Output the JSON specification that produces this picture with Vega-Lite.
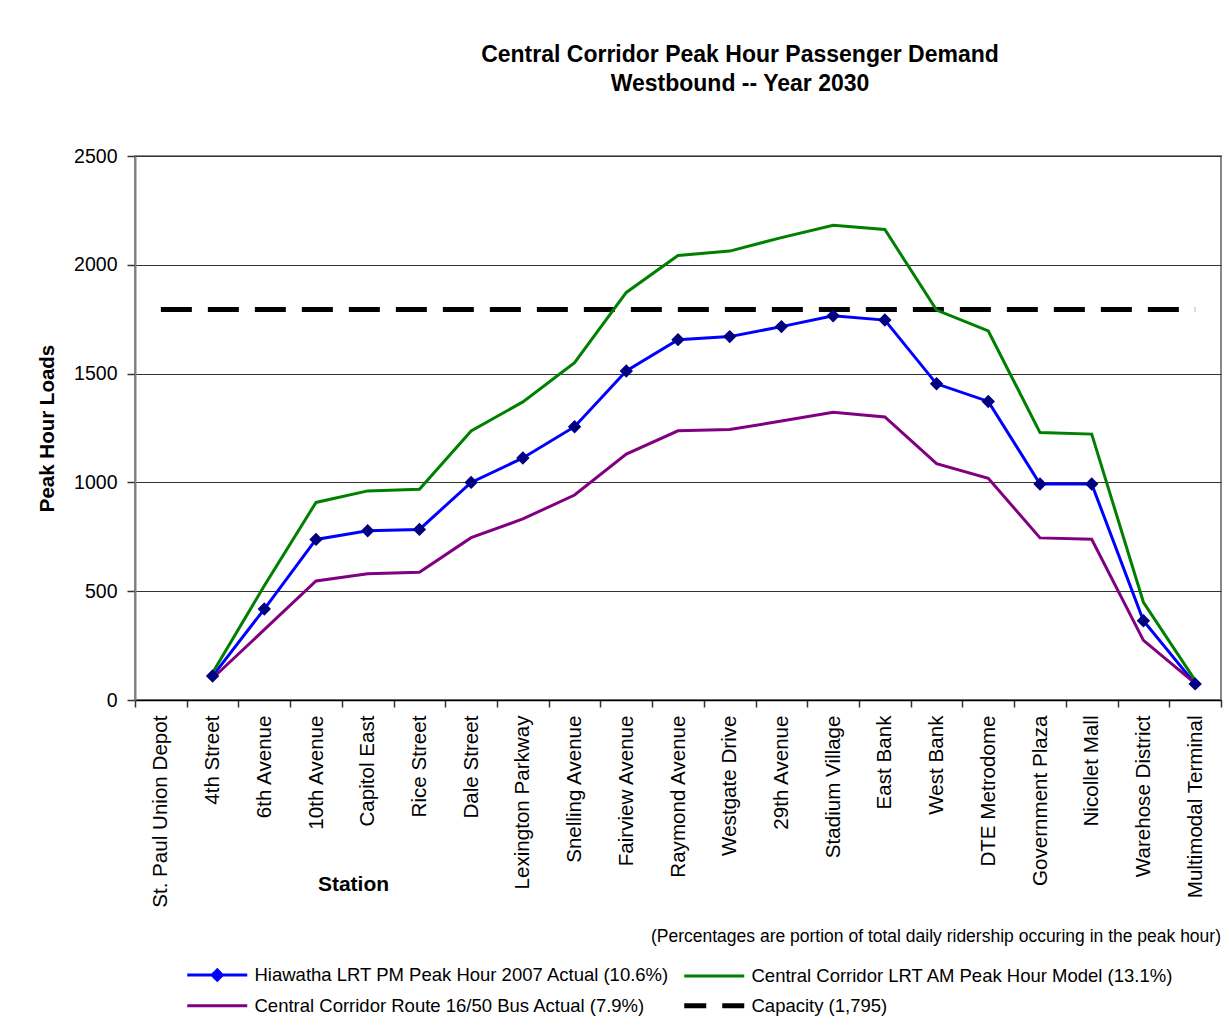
{
  "$schema": "https://vega.github.io/schema/vega-lite/v6.json",
  "width": 1086,
  "height": 544,
  "autosize": {"type": "none"},
  "padding": {"left": 135, "top": 156, "right": 8, "bottom": 332},
  "background": "#ffffff",
  "title": {
    "text": ["Central Corridor Peak Hour Passenger Demand", "Westbound -- Year 2030"],
    "font": "Liberation Sans",
    "fontSize": 23,
    "fontWeight": "bold",
    "color": "#000000",
    "anchor": "middle",
    "dx": 62,
    "offset": 50,
    "lineHeight": 29
  },
  "config": {
    "view": {"stroke": "#888888", "strokeWidth": 2},
    "font": "Liberation Sans",
    "axis": {"labelFont": "Liberation Sans", "titleFont": "Liberation Sans", "labelColor": "#000000", "titleColor": "#000000"},
    "legend": {
      "orient": "none",
      "legendX": 73,
      "legendY": 772,
      "columns": 2,
      "columnPadding": -3,
      "rowPadding": 9,
      "gridAlign": "all",
      "padding": 0,
      "labelFont": "Liberation Sans",
      "labelFontSize": 18.5,
      "labelColor": "#000000",
      "labelLimit": 700,
      "symbolType": "stroke",
      "symbolStrokeWidth": 3,
      "titleFont": "Liberation Sans",
      "titleFontSize": 17.5,
      "titleFontWeight": "normal",
      "titleColor": "#000000",
      "titleAnchor": "end",
      "titleLimit": 1200,
      "titlePadding": 20
    }
  },
  "data": {
    "values": [
      {"station": "4th Street", "series": "Hiawatha LRT PM Peak Hour 2007 Actual (10.6%)", "value": 110},
      {"station": "6th Avenue", "series": "Hiawatha LRT PM Peak Hour 2007 Actual (10.6%)", "value": 418},
      {"station": "10th Avenue", "series": "Hiawatha LRT PM Peak Hour 2007 Actual (10.6%)", "value": 738},
      {"station": "Capitol East", "series": "Hiawatha LRT PM Peak Hour 2007 Actual (10.6%)", "value": 778},
      {"station": "Rice Street", "series": "Hiawatha LRT PM Peak Hour 2007 Actual (10.6%)", "value": 784},
      {"station": "Dale Street", "series": "Hiawatha LRT PM Peak Hour 2007 Actual (10.6%)", "value": 1000},
      {"station": "Lexington Parkway", "series": "Hiawatha LRT PM Peak Hour 2007 Actual (10.6%)", "value": 1112},
      {"station": "Snelling Avenue", "series": "Hiawatha LRT PM Peak Hour 2007 Actual (10.6%)", "value": 1256},
      {"station": "Fairview Avenue", "series": "Hiawatha LRT PM Peak Hour 2007 Actual (10.6%)", "value": 1512},
      {"station": "Raymond Avenue", "series": "Hiawatha LRT PM Peak Hour 2007 Actual (10.6%)", "value": 1656},
      {"station": "Westgate Drive", "series": "Hiawatha LRT PM Peak Hour 2007 Actual (10.6%)", "value": 1670},
      {"station": "29th Avenue", "series": "Hiawatha LRT PM Peak Hour 2007 Actual (10.6%)", "value": 1716},
      {"station": "Stadium Village", "series": "Hiawatha LRT PM Peak Hour 2007 Actual (10.6%)", "value": 1766},
      {"station": "East Bank", "series": "Hiawatha LRT PM Peak Hour 2007 Actual (10.6%)", "value": 1746},
      {"station": "West Bank", "series": "Hiawatha LRT PM Peak Hour 2007 Actual (10.6%)", "value": 1453},
      {"station": "DTE Metrodome", "series": "Hiawatha LRT PM Peak Hour 2007 Actual (10.6%)", "value": 1372},
      {"station": "Government Plaza", "series": "Hiawatha LRT PM Peak Hour 2007 Actual (10.6%)", "value": 993},
      {"station": "Nicollet Mall", "series": "Hiawatha LRT PM Peak Hour 2007 Actual (10.6%)", "value": 993},
      {"station": "Warehose District", "series": "Hiawatha LRT PM Peak Hour 2007 Actual (10.6%)", "value": 364},
      {"station": "Multimodal Terminal", "series": "Hiawatha LRT PM Peak Hour 2007 Actual (10.6%)", "value": 74},

      {"station": "4th Street", "series": "Central Corridor LRT AM Peak Hour Model (13.1%)", "value": 125},
      {"station": "6th Avenue", "series": "Central Corridor LRT AM Peak Hour Model (13.1%)", "value": 525},
      {"station": "10th Avenue", "series": "Central Corridor LRT AM Peak Hour Model (13.1%)", "value": 908},
      {"station": "Capitol East", "series": "Central Corridor LRT AM Peak Hour Model (13.1%)", "value": 961},
      {"station": "Rice Street", "series": "Central Corridor LRT AM Peak Hour Model (13.1%)", "value": 968},
      {"station": "Dale Street", "series": "Central Corridor LRT AM Peak Hour Model (13.1%)", "value": 1236},
      {"station": "Lexington Parkway", "series": "Central Corridor LRT AM Peak Hour Model (13.1%)", "value": 1370},
      {"station": "Snelling Avenue", "series": "Central Corridor LRT AM Peak Hour Model (13.1%)", "value": 1550},
      {"station": "Fairview Avenue", "series": "Central Corridor LRT AM Peak Hour Model (13.1%)", "value": 1873},
      {"station": "Raymond Avenue", "series": "Central Corridor LRT AM Peak Hour Model (13.1%)", "value": 2043},
      {"station": "Westgate Drive", "series": "Central Corridor LRT AM Peak Hour Model (13.1%)", "value": 2063},
      {"station": "29th Avenue", "series": "Central Corridor LRT AM Peak Hour Model (13.1%)", "value": 2125},
      {"station": "Stadium Village", "series": "Central Corridor LRT AM Peak Hour Model (13.1%)", "value": 2182},
      {"station": "East Bank", "series": "Central Corridor LRT AM Peak Hour Model (13.1%)", "value": 2162},
      {"station": "West Bank", "series": "Central Corridor LRT AM Peak Hour Model (13.1%)", "value": 1792},
      {"station": "DTE Metrodome", "series": "Central Corridor LRT AM Peak Hour Model (13.1%)", "value": 1696},
      {"station": "Government Plaza", "series": "Central Corridor LRT AM Peak Hour Model (13.1%)", "value": 1229},
      {"station": "Nicollet Mall", "series": "Central Corridor LRT AM Peak Hour Model (13.1%)", "value": 1222},
      {"station": "Warehose District", "series": "Central Corridor LRT AM Peak Hour Model (13.1%)", "value": 449},
      {"station": "Multimodal Terminal", "series": "Central Corridor LRT AM Peak Hour Model (13.1%)", "value": 90},

      {"station": "4th Street", "series": "Central Corridor Route 16/50 Bus Actual (7.9%)", "value": 100},
      {"station": "6th Avenue", "series": "Central Corridor Route 16/50 Bus Actual (7.9%)", "value": 323},
      {"station": "10th Avenue", "series": "Central Corridor Route 16/50 Bus Actual (7.9%)", "value": 547},
      {"station": "Capitol East", "series": "Central Corridor Route 16/50 Bus Actual (7.9%)", "value": 580},
      {"station": "Rice Street", "series": "Central Corridor Route 16/50 Bus Actual (7.9%)", "value": 587},
      {"station": "Dale Street", "series": "Central Corridor Route 16/50 Bus Actual (7.9%)", "value": 746},
      {"station": "Lexington Parkway", "series": "Central Corridor Route 16/50 Bus Actual (7.9%)", "value": 832},
      {"station": "Snelling Avenue", "series": "Central Corridor Route 16/50 Bus Actual (7.9%)", "value": 942},
      {"station": "Fairview Avenue", "series": "Central Corridor Route 16/50 Bus Actual (7.9%)", "value": 1130},
      {"station": "Raymond Avenue", "series": "Central Corridor Route 16/50 Bus Actual (7.9%)", "value": 1237},
      {"station": "Westgate Drive", "series": "Central Corridor Route 16/50 Bus Actual (7.9%)", "value": 1243},
      {"station": "29th Avenue", "series": "Central Corridor Route 16/50 Bus Actual (7.9%)", "value": 1282},
      {"station": "Stadium Village", "series": "Central Corridor Route 16/50 Bus Actual (7.9%)", "value": 1322},
      {"station": "East Bank", "series": "Central Corridor Route 16/50 Bus Actual (7.9%)", "value": 1301},
      {"station": "West Bank", "series": "Central Corridor Route 16/50 Bus Actual (7.9%)", "value": 1086},
      {"station": "DTE Metrodome", "series": "Central Corridor Route 16/50 Bus Actual (7.9%)", "value": 1019},
      {"station": "Government Plaza", "series": "Central Corridor Route 16/50 Bus Actual (7.9%)", "value": 745},
      {"station": "Nicollet Mall", "series": "Central Corridor Route 16/50 Bus Actual (7.9%)", "value": 739},
      {"station": "Warehose District", "series": "Central Corridor Route 16/50 Bus Actual (7.9%)", "value": 274},
      {"station": "Multimodal Terminal", "series": "Central Corridor Route 16/50 Bus Actual (7.9%)", "value": 76},

      {"station": "St. Paul Union Depot", "series": "Capacity (1,795)", "value": 1795},
      {"station": "4th Street", "series": "Capacity (1,795)", "value": 1795},
      {"station": "6th Avenue", "series": "Capacity (1,795)", "value": 1795},
      {"station": "10th Avenue", "series": "Capacity (1,795)", "value": 1795},
      {"station": "Capitol East", "series": "Capacity (1,795)", "value": 1795},
      {"station": "Rice Street", "series": "Capacity (1,795)", "value": 1795},
      {"station": "Dale Street", "series": "Capacity (1,795)", "value": 1795},
      {"station": "Lexington Parkway", "series": "Capacity (1,795)", "value": 1795},
      {"station": "Snelling Avenue", "series": "Capacity (1,795)", "value": 1795},
      {"station": "Fairview Avenue", "series": "Capacity (1,795)", "value": 1795},
      {"station": "Raymond Avenue", "series": "Capacity (1,795)", "value": 1795},
      {"station": "Westgate Drive", "series": "Capacity (1,795)", "value": 1795},
      {"station": "29th Avenue", "series": "Capacity (1,795)", "value": 1795},
      {"station": "Stadium Village", "series": "Capacity (1,795)", "value": 1795},
      {"station": "East Bank", "series": "Capacity (1,795)", "value": 1795},
      {"station": "West Bank", "series": "Capacity (1,795)", "value": 1795},
      {"station": "DTE Metrodome", "series": "Capacity (1,795)", "value": 1795},
      {"station": "Government Plaza", "series": "Capacity (1,795)", "value": 1795},
      {"station": "Nicollet Mall", "series": "Capacity (1,795)", "value": 1795},
      {"station": "Warehose District", "series": "Capacity (1,795)", "value": 1795},
      {"station": "Multimodal Terminal", "series": "Capacity (1,795)", "value": 1795}
    ]
  },
  "encoding": {
    "x": {
      "field": "station",
      "type": "nominal",
      "sort": ["St. Paul Union Depot", "4th Street", "6th Avenue", "10th Avenue", "Capitol East", "Rice Street", "Dale Street", "Lexington Parkway", "Snelling Avenue", "Fairview Avenue", "Raymond Avenue", "Westgate Drive", "29th Avenue", "Stadium Village", "East Bank", "West Bank", "DTE Metrodome", "Government Plaza", "Nicollet Mall", "Warehose District", "Multimodal Terminal"],
      "scale": {"type": "band", "paddingInner": 0, "paddingOuter": 0},
      "bandPosition": 0.5,
      "axis": {
        "title": "Station",
        "titleFontSize": 21,
        "titleFontWeight": "bold",
        "titleX": 218,
        "titleY": 184,
        "titleAlign": "center",
        "titleBaseline": "middle",
        "labelAngle": 270,
        "labelFontSize": 20.6,
        "labelLimit": 400,
        "labelPadding": 8,
        "tickBand": "extent",
        "tickSize": 7,
        "tickColor": "#333333",
        "tickWidth": 1.5,
        "domainColor": "#000000",
        "domainWidth": 1.5,
        "grid": false
      }
    },
    "y": {
      "field": "value",
      "type": "quantitative",
      "scale": {"domain": [0, 2500], "nice": false},
      "axis": {
        "title": "Peak Hour Loads",
        "titleFontSize": 20.5,
        "titleFontWeight": "bold",
        "titlePadding": 16,
        "values": [0, 500, 1000, 1500, 2000, 2500],
        "format": "d",
        "labelFontSize": 19.5,
        "labelPadding": 10,
        "tickSize": 8,
        "tickColor": "#333333",
        "tickWidth": 1.5,
        "domainColor": "#808080",
        "domainWidth": 2,
        "grid": true,
        "gridColor": "#333333",
        "gridWidth": 1
      }
    }
  },
  "layer": [
    {
      "transform": [{"filter": "datum.series === 'Capacity (1,795)'"}],
      "mark": {"type": "line", "strokeWidth": 5, "strokeDash": [31, 16]},
      "encoding": {
        "color": {
          "field": "series",
          "type": "nominal",
          "scale": {
            "domain": ["Hiawatha LRT PM Peak Hour 2007 Actual (10.6%)", "Central Corridor Route 16/50 Bus Actual (7.9%)", "Central Corridor LRT AM Peak Hour Model (13.1%)", "Capacity (1,795)"],
            "range": ["#0000ff", "#800080", "#008000", "#000000"]
          },
          "legend": {
            "title": "(Percentages are portion of total daily ridership occuring in the peak hour)",
            "labelOffset": 28,
            "encode": {
              "title": {"update": {"dx": {"value": 47}}},
              "symbols": {
                "update": {
                  "shape": {"signal": "datum.value === 'Hiawatha LRT PM Peak Hour 2007 Actual (10.6%)' ? 'M-1,0H1M0,-0.17L0.17,0L0,0.17L-0.17,0Z' : 'stroke'"},
                  "fill": {"signal": "datum.value === 'Hiawatha LRT PM Peak Hour 2007 Actual (10.6%)' ? '#000080' : 'transparent'"},
                  "size": {"value": 3600},
                  "strokeWidth": {"signal": "datum.value === 'Capacity (1,795)' ? 5 : 3"},
                  "strokeDash": {"signal": "datum.value === 'Capacity (1,795)' ? [22, 16] : [1, 0]"}
                }
              }
            }
          }
        }
      }
    },
    {
      "transform": [{"filter": "datum.series !== 'Capacity (1,795)'"}],
      "mark": {"type": "line", "strokeWidth": 3},
      "encoding": {
        "color": {"field": "series", "type": "nominal"}
      }
    },
    {
      "transform": [{"filter": "datum.series === 'Hiawatha LRT PM Peak Hour 2007 Actual (10.6%)'"}],
      "mark": {"type": "point", "shape": "diamond", "filled": true, "size": 180, "color": "#000080", "opacity": 1}
    }
  ]
}
